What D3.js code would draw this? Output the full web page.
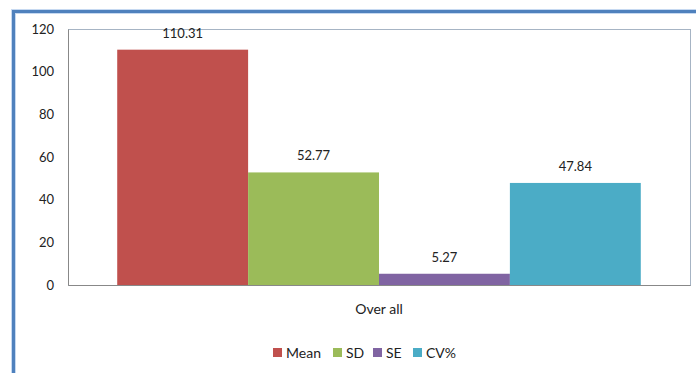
<!DOCTYPE html>
<html>
<head>
<meta charset="utf-8">
<script src="https://cdn.jsdelivr.net/npm/d3@7"></script>
<style>
  body { margin: 0; background: #fff; }
  svg { display: block; font-family: Lato, "Open Sans", sans-serif; }
</style>
</head>
<body>
<div id="chart"></div>
<script>
var width = 696,
    height = 373;

var categories = ["Over all"];
var series = ["Mean", "SD", "SE", "CV%"];
var values = [110.31, 52.77, 5.27, 47.84];
var colors = ["#c0504d", "#9bbb59", "#8064a2", "#4bacc6"];
var yTicks = [0, 20, 40, 60, 80, 100, 120];

var margin = {top: 29, right: 6, bottom: 88, left: 68};

var svg = d3.select("#chart")
    .append("svg")
    .attr("width", width)
    .attr("height", height);

// outer frame (cut off on right and bottom like the screenshot)
svg.append("rect")
    .attr("x", 13.5)
    .attr("y", 11.5)
    .attr("width", width + 20)
    .attr("height", height + 20)
    .attr("fill", "none")
    .attr("stroke", "#c6d9f1")
    .attr("stroke-width", 5);
svg.append("rect")
    .attr("x", 13.5)
    .attr("y", 11.5)
    .attr("width", width + 20)
    .attr("height", height + 20)
    .attr("fill", "none")
    .attr("stroke", "#4f81bd")
    .attr("stroke-width", 3);

var x0 = d3.scaleBand()
    .domain(categories)
    .range([margin.left, width - margin.right])
    .paddingInner(0)
    .paddingOuter(0.094);

var x1 = d3.scaleBand()
    .domain(series)
    .range([0, x0.bandwidth()]);

var y = d3.scaleLinear()
    .domain([0, 120])
    .range([height - margin.bottom, margin.top]);

// plot area border
svg.append("rect")
    .attr("x", margin.left + 0.5)
    .attr("y", margin.top + 0.5)
    .attr("width", width - margin.right - margin.left)
    .attr("height", y(0) - margin.top)
    .attr("fill", "none")
    .attr("stroke", "#a6b4c4")
    .attr("stroke-width", 1);

var g = svg.append("g")
    .selectAll("g")
    .data(categories)
    .enter().append("g")
    .attr("transform", function (d) { return "translate(" + x0(d) + ",0)"; });

g.selectAll("rect")
    .data(series.map(function (s, i) { return {key: s, value: values[i], color: colors[i]}; }))
    .enter().append("rect")
    .attr("x", function (d) { return x1(d.key); })
    .attr("y", function (d) { return y(d.value); })
    .attr("width", x1.bandwidth())
    .attr("height", function (d) { return y(0) - y(d.value); })
    .attr("fill", function (d) { return d.color; });

g.selectAll("text.val")
    .data(series.map(function (s, i) { return {key: s, value: values[i]}; }))
    .enter().append("text")
    .attr("class", "val")
    .attr("x", function (d) { return x1(d.key) + x1.bandwidth() / 2; })
    .attr("y", function (d) { return y(d.value) - 12; })
    .attr("text-anchor", "middle")
    .attr("font-size", 13)
    .attr("fill", "#222")
    .text(function (d) { return d.value.toFixed(2); });

// y axis
var yAxis = svg.append("g")
    .attr("transform", "translate(" + margin.left + ",0)")
    .call(d3.axisLeft(y).tickValues(yTicks).tickSize(0).tickPadding(14));
yAxis.select(".domain").attr("stroke", "#888");
yAxis.selectAll("text").attr("font-size", 13).attr("fill", "#222")
    .attr("font-family", "Lato, 'Open Sans', sans-serif");

// x axis
var xAxis = svg.append("g")
    .attr("transform", "translate(0," + y(0) + ")")
    .call(d3.axisBottom(x0).tickSize(0).tickPadding(19));
xAxis.select(".domain").attr("stroke", "#888");
xAxis.selectAll("text").attr("font-size", 14).attr("fill", "#222")
    .attr("font-family", "Lato, 'Open Sans', sans-serif");

// legend
var legendX = [273, 333, 373, 413];
var legend = svg.append("g")
    .selectAll("g")
    .data(series)
    .enter().append("g")
    .attr("transform", function (d, i) { return "translate(" + legendX[i] + ",348)"; });

legend.append("rect")
    .attr("width", 9)
    .attr("height", 9)
    .attr("fill", function (d, i) { return colors[i]; });

legend.append("text")
    .attr("x", 13)
    .attr("y", 9.5)
    .attr("font-size", 14)
    .attr("fill", "#222")
    .text(function (d) { return d; });
</script>
</body>
</html>
